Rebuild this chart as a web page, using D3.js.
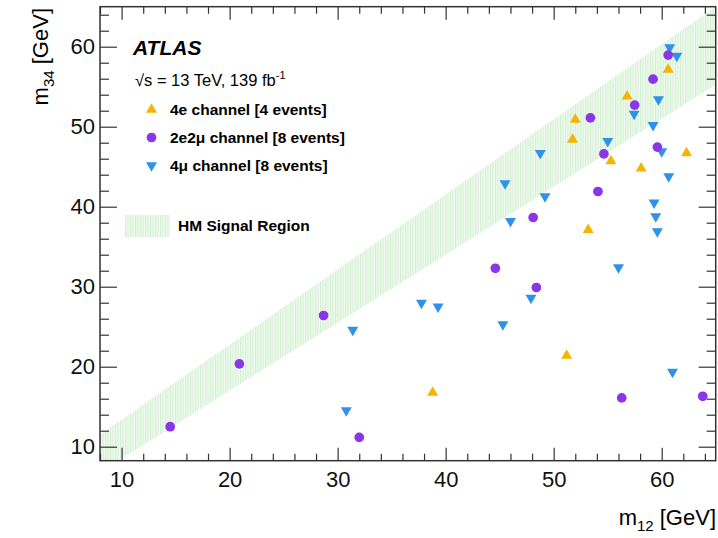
<!DOCTYPE html>
<html>
<head>
<meta charset="utf-8">
<script src="https://cdn.jsdelivr.net/npm/d3@7"></script>
<style>
  body { margin: 0; background: #fff; }
  svg { display: block; font-family: "Liberation Sans", Arial, Helvetica, sans-serif; }
  .axis text { font-size: 22px; fill: #111; }
  .axis line { stroke: #333; stroke-width: 1.2; }
  .axis path { display: none; }
</style>
</head>
<body>
<svg id="chart" width="718" height="538"></svg>
<script>
// 4e channel (yellow, triangle up)
const m12_4e = [60.6, 56.8, 52.0, 51.75, 62.3, 55.3, 58.1, 53.2, 51.2, 38.8];
const m34_4e = [57.15, 53.8, 50.9, 48.4, 46.7, 45.7, 44.8, 37.1, 21.4, 16.75];

// 2e2mu channel (purple, circle)
const m12_2e2m = [60.6, 59.2, 57.5, 53.4, 59.6, 54.65, 54.1, 48.1, 44.6, 48.4, 28.7, 20.9, 14.5, 32.0, 56.3, 63.8];
const m34_2e2m = [58.95, 55.94, 52.7, 51.1, 47.45, 46.6, 41.9, 38.65, 32.3, 29.9, 26.4, 20.35, 12.5, 11.16, 16.1, 16.3];

// 4mu channel (blue, triangle down)
const m12_4m = [60.74, 61.4, 59.7, 57.45, 59.2, 55.0, 60.0, 48.76, 60.65, 45.5, 49.2, 59.3, 46.0, 59.45, 59.6, 56.0, 47.9, 37.76, 39.3, 45.3, 61.0, 31.4, 30.8];
const m34_4m = [59.9, 58.86, 53.4, 51.6, 50.2, 48.2, 46.9, 46.7, 43.8, 42.9, 41.3, 40.5, 38.2, 38.8, 36.9, 32.4, 28.6, 27.96, 27.5, 25.3, 19.35, 24.6, 14.55];

// HM signal region band (lower / upper edge of m34 vs m12)
const bandM12 = [8, 65];
const bandLow = [6.8, 55.25];
const bandHigh = [11.5, 65];

const xMajor = [10, 20, 30, 40, 50, 60];
const yMajor = [10, 20, 30, 40, 50, 60];
const xMinor = [8, 12, 14, 16, 18, 22, 24, 26, 28, 32, 34, 36, 38, 42, 44, 46, 48, 52, 54, 56, 58, 62, 64];
const yMinor = [12, 14, 16, 18, 22, 24, 26, 28, 32, 34, 36, 38, 42, 44, 46, 48, 52, 54, 56, 58, 62, 64];

const legendLabels = ["4e channel [4 events]", "2e2\u03bc channel [8 events]", "4\u03bc channel [8 events]"];

const COLORS = { e4: "#f4b400", e2m2: "#8b35e8", m4: "#2e92ea" };

const PL = 100, PR = 715.7, PT = 6.7, PB = 460.7;

const svg = d3.select("#chart");

const x = d3.scaleLinear().domain([8, 65]).range([PL, PR]);
const y = d3.scaleLinear().domain([8.25, 65]).range([PB, PT]);

// defs: clip + hatch
const defs = svg.append("defs");
defs.append("clipPath").attr("id", "plot-clip")
  .append("rect")
  .attr("x", PL).attr("y", PT)
  .attr("width", PR - PL).attr("height", PB - PT);

const hatch = defs.append("pattern")
  .attr("id", "hatch")
  .attr("patternUnits", "userSpaceOnUse")
  .attr("width", 2.5).attr("height", 10);
hatch.append("rect").attr("width", 2.5).attr("height", 10).attr("fill", "#f2fbf2");
hatch.append("line")
  .attr("x1", 0.6).attr("x2", 0.6).attr("y1", 0).attr("y2", 10)
  .attr("stroke", "#cdeecd").attr("stroke-width", 1);

// band
const bandData = bandM12.map((m, i) => ({ m, lo: bandLow[i], hi: bandHigh[i] }));
svg.append("path")
  .datum(bandData)
  .attr("clip-path", "url(#plot-clip)")
  .attr("fill", "url(#hatch)")
  .attr("d", d3.area().x((d) => x(d.m)).y0((d) => y(d.lo)).y1((d) => y(d.hi)));

// axes
function noLabels(g) { g.selectAll("text").remove(); }

svg.append("g").attr("class", "axis")
  .attr("transform", `translate(0,${PB})`)
  .call(d3.axisBottom(x).tickValues(xMajor).tickSize(-13).tickPadding(11).tickFormat(d3.format("d")));
svg.append("g").attr("class", "axis")
  .attr("transform", `translate(0,${PB})`)
  .call(d3.axisBottom(x).tickValues(xMinor).tickSize(-7)).call(noLabels);
svg.append("g").attr("class", "axis")
  .attr("transform", `translate(0,${PT})`)
  .call(d3.axisTop(x).tickValues(xMajor).tickSize(-13)).call(noLabels);
svg.append("g").attr("class", "axis")
  .attr("transform", `translate(0,${PT})`)
  .call(d3.axisTop(x).tickValues(xMinor).tickSize(-7)).call(noLabels);

svg.append("g").attr("class", "axis")
  .attr("transform", `translate(${PL},0)`)
  .call(d3.axisLeft(y).tickValues(yMajor).tickSize(-17).tickPadding(5).tickFormat(d3.format("d")));
svg.append("g").attr("class", "axis")
  .attr("transform", `translate(${PL},0)`)
  .call(d3.axisLeft(y).tickValues(yMinor).tickSize(-9)).call(noLabels);
svg.append("g").attr("class", "axis")
  .attr("transform", `translate(${PR},0)`)
  .call(d3.axisRight(y).tickValues(yMajor).tickSize(-17)).call(noLabels);
svg.append("g").attr("class", "axis")
  .attr("transform", `translate(${PR},0)`)
  .call(d3.axisRight(y).tickValues(yMinor).tickSize(-9)).call(noLabels);

// frame
svg.append("rect")
  .attr("x", PL).attr("y", PT)
  .attr("width", PR - PL).attr("height", PB - PT)
  .attr("fill", "none").attr("stroke", "#333").attr("stroke-width", 1.5);

// points
const circle = d3.symbol().type(d3.symbolCircle).size(74)();
const tri = d3.symbol().type(d3.symbolTriangle).size(52)();

function drawSeries(xs, ys, path, color, rot) {
  svg.append("g")
    .selectAll("path")
    .data(xs.map((v, i) => [v, ys[i]]))
    .enter()
    .append("path")
    .attr("d", path)
    .attr("fill", color)
    .attr("transform", (d) => `translate(${x(d[0])},${y(d[1])}) rotate(${rot})`);
}
drawSeries(m12_4m, m34_4m, tri, COLORS.m4, 180);
drawSeries(m12_4e, m34_4e, tri, COLORS.e4, 0);
drawSeries(m12_2e2m, m34_2e2m, circle, COLORS.e2m2, 0);

// labels
svg.append("text")
  .attr("x", 133).attr("y", 55)
  .style("font-size", "21px").style("font-weight", "bold").style("font-style", "italic")
  .text("ATLAS");

const lumi = svg.append("text")
  .attr("x", 135).attr("y", 86)
  .style("font-size", "16.5px");
lumi.append("tspan").text("\u221As = 13 TeV, 139 fb");
lumi.append("tspan").attr("dy", -7).style("font-size", "11px").text("-1");

const legendY = [109.5, 137.5, 165.5];
const legendMarks = [
  { path: tri, color: COLORS.e4, rot: 0 },
  { path: circle, color: COLORS.e2m2, rot: 0 },
  { path: tri, color: COLORS.m4, rot: 180 },
];
legendMarks.forEach((m, i) => {
  svg.append("path")
    .attr("d", m.path).attr("fill", m.color)
    .attr("transform", `translate(151.5,${legendY[i]}) rotate(${m.rot})`);
  svg.append("text")
    .attr("x", 170).attr("y", legendY[i] + 5)
    .style("font-size", "15.5px").style("font-weight", "bold")
    .text(legendLabels[i]);
});

svg.append("rect")
  .attr("x", 125).attr("y", 215).attr("width", 45).attr("height", 22)
  .attr("fill", "url(#hatch)");
svg.append("text")
  .attr("x", 178).attr("y", 231)
  .style("font-size", "15.5px").style("font-weight", "bold")
  .text("HM Signal Region");

// axis titles
const xt = svg.append("text")
  .attr("x", 716).attr("y", 525)
  .attr("text-anchor", "end")
  .style("font-size", "22px");
xt.append("tspan").text("m");
xt.append("tspan").attr("dy", 6).style("font-size", "15px").text("12");
xt.append("tspan").attr("dy", -6).text(" [GeV]");

const yt = svg.append("text")
  .attr("transform", "translate(48,8) rotate(-90)")
  .attr("text-anchor", "end")
  .style("font-size", "22px");
yt.append("tspan").text("m");
yt.append("tspan").attr("dy", 6).style("font-size", "15px").text("34");
yt.append("tspan").attr("dy", -6).text(" [GeV]");
</script>
</body>
</html>
